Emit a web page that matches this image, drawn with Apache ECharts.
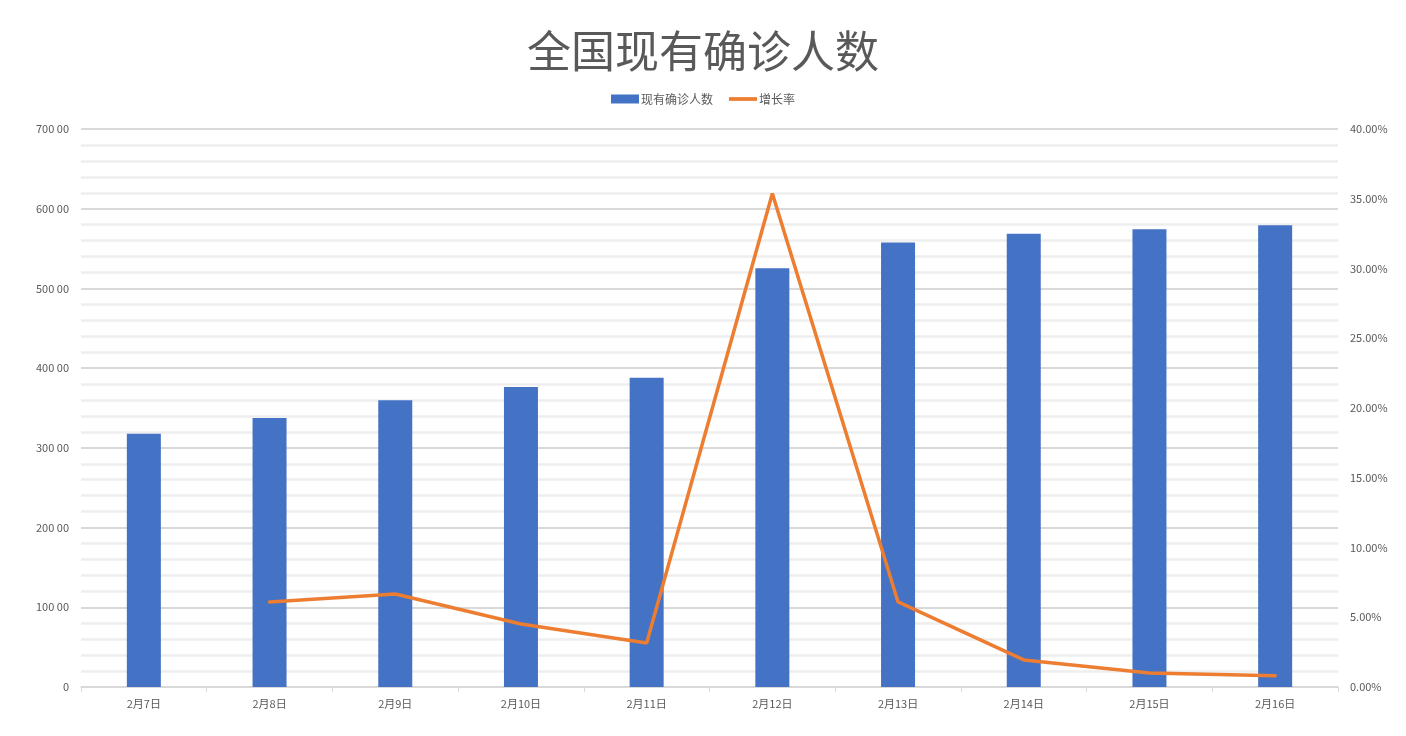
<!DOCTYPE html>
<html>
<head>
<meta charset="utf-8">
<script src="https://cdn.jsdelivr.net/npm/echarts@6/dist/echarts.min.js"></script>
<style>
html,body{margin:0;padding:0;background:#fff;}
#main{width:1406px;height:736px;}
</style>
</head>
<body>
<div id="main"></div>
<script>
const categories = ['2月7日','2月8日','2月9日','2月10日','2月11日','2月12日','2月13日','2月14日','2月15日','2月16日'];
const existingCases = [31774, 33738, 35982, 37626, 38800, 52526, 55748, 56873, 57416, 57934];
const growthRate = [null, 0.0610, 0.0667, 0.0452, 0.0315, 0.3538, 0.0610, 0.0194, 0.0100, 0.0081];

const chart = echarts.init(document.getElementById('main'));
const txt = '#595959';
const font = 'Noto Sans CJK SC, Noto Sans, sans-serif';
chart.setOption({
  animation: false,
  textStyle: { fontFamily: font },
  title: {
    text: '全国现有确诊人数',
    left: 'center',
    top: 24,
    textStyle: { fontSize: 44, fontWeight: 'normal', color: txt, fontFamily: font }
  },
  legend: {
    top: 88,
    left: 'center',
    itemGap: 16,
    textStyle: { color: txt, fontSize: 12, padding: [0, 0, 0, -3] },
    data: [
      { name: '现有确诊人数', icon: 'rect', itemStyle: { color: '#4472C4' } },
      { name: '增长率', icon: 'path://M0,0 L30,0 L30,4 L0,4 Z', itemStyle: { color: '#ED7D31' } }
    ],
    itemWidth: 28,
    itemHeight: 9
  },
  grid: { left: 81, right: 68, top: 129, bottom: 49 },
  xAxis: {
    type: 'category',
    data: categories,
    boundaryGap: true,
    axisLine: { lineStyle: { color: '#d9d9d9', width: 1.5 } },
    axisTick: { show: true, length: 5, lineStyle: { color: '#d9d9d9' } },
    axisLabel: { color: txt, fontSize: 11, margin: 11 }
  },
  yAxis: [
    {
      type: 'value',
      min: 0, max: 70000, interval: 10000,
      axisLine: { show: false },
      axisTick: { show: false },
      axisLabel: {
        color: txt, fontSize: 11, margin: 12,
        formatter: v => v === 0 ? '0' : (v / 100) + ' 00'
      },
      splitLine: { lineStyle: { color: '#d9d9d9', width: 2 } },
      minorTick: { show: false, splitNumber: 5 },
      minorSplitLine: { show: true, lineStyle: { color: '#eeeeee', width: 2.5 } }
    },
    {
      type: 'value',
      min: 0, max: 0.4, interval: 0.05,
      axisLine: { show: false },
      axisTick: { show: false },
      splitLine: { show: false },
      axisLabel: {
        color: txt, fontSize: 11, margin: 12,
        formatter: v => (v * 100).toFixed(2) + '%'
      }
    }
  ],
  series: [
    {
      name: '现有确诊人数',
      type: 'bar',
      data: existingCases,
      barWidth: 34,
      itemStyle: { color: '#4472C4' }
    },
    {
      name: '增长率',
      type: 'line',
      yAxisIndex: 1,
      data: growthRate,
      symbol: 'none',
      lineStyle: { color: '#ED7D31', width: 3.5, cap: 'round' },
      itemStyle: { color: '#ED7D31' }
    }
  ]
});
</script>
</body>
</html>
